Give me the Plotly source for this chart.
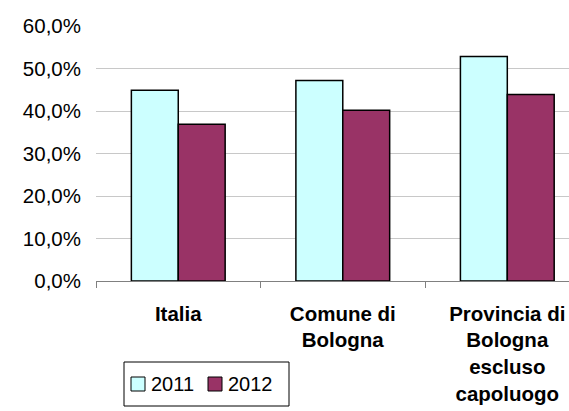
import plotly.graph_objects as go

categories = ["Italia", "Comune di<br>Bologna", "Provincia di<br>Bologna<br>escluso<br>capoluogo"]
series_2011 = [0.449, 0.472, 0.528]
series_2012 = [0.369, 0.402, 0.439]
y_ticks = [0, 0.1, 0.2, 0.3, 0.4, 0.5, 0.6]
series_names = ["2011", "2012"]
series_colors = ["#CCFFFF", "#993366"]

FONT = "Liberation Sans, Arial, sans-serif"
W, H = 569, 411
ML, MT, MB = 96, 26, 130
PW, PH = W - ML, H - MT - MB


def px_x(px):
    return (px - ML) / PW


def px_y(py):
    return (H - MB - py) / PH


fig = go.Figure()
for name, vals, col in zip(series_names, [series_2011, series_2012], series_colors):
    fig.add_trace(go.Bar(name=name, x=categories, y=vals,
                         marker=dict(color=col, line=dict(color="black", width=1.5))))

# Boxed legend below the plot area
shapes = [dict(type="rect", xref="paper", yref="paper",
               x0=px_x(124), x1=px_x(289), y0=px_y(406), y1=px_y(362),
               line=dict(color="black", width=1), fillcolor="white")]
annotations = []
for i, (name, col) in enumerate(zip(series_names, series_colors)):
    sx = 131 + i * 77
    shapes.append(dict(type="rect", xref="paper", yref="paper",
                       x0=px_x(sx), x1=px_x(sx + 14), y0=px_y(391), y1=px_y(377),
                       line=dict(color="black", width=1), fillcolor=col))
    annotations.append(dict(text=name, xref="paper", yref="paper",
                            x=px_x(sx + 19), y=px_y(384), xanchor="left", yanchor="middle",
                            showarrow=False, borderpad=0,
                            font=dict(size=20, family=FONT, color="black")))

fig.update_layout(
    width=W, height=H,
    margin=dict(l=ML, r=0, t=MT, b=MB),
    paper_bgcolor="white", plot_bgcolor="white",
    separators=",.",
    barmode="group", bargap=0.43, bargroupgap=0,
    font=dict(family=FONT, color="black"),
    showlegend=False,
    shapes=shapes,
    annotations=annotations,
)
fig.update_xaxes(
    range=[-0.5, 2.375], showline=True, linecolor="#808080", linewidth=1,
    ticks="outside", tickson="boundaries", ticklen=6, tickcolor="#808080",
    tickfont=dict(size=20.5, family=FONT, weight="bold"),
    ticklabelstandoff=14,
    showgrid=False, fixedrange=True,
)
fig.update_yaxes(
    range=[0, 0.6], tickvals=y_ticks, tickformat=".1%",
    showgrid=True, gridcolor="#C8C8C8", gridwidth=1,
    zeroline=False, showline=False, ticks="",
    ticklabelstandoff=14,
    tickfont=dict(size=20.5, family=FONT),
)

fig.write_html("out.html")
